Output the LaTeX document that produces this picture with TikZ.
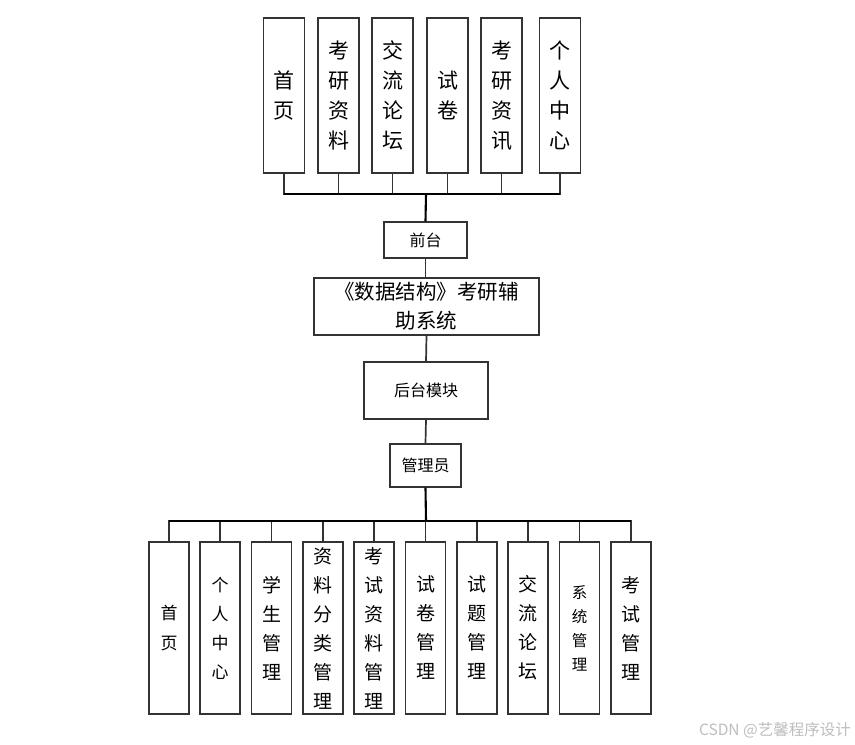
\documentclass[tikz,border=0pt]{standalone}
\usepackage{fontspec}
\newfontfamily\cjk{Noto Sans CJK SC}
\definecolor{boxline}{HTML}{333333}
\definecolor{wm}{HTML}{BDBDBD}
\tikzset{
  box/.style={draw=boxline, line width=1.4pt, fill=white, inner sep=0pt, align=center},
  vtop/.style={box, minimum width=41pt, minimum height=155pt, font=\cjk\fontsize{21}{30}\selectfont},
  vbot/.style={box, minimum width=40pt, minimum height=172pt, font=\cjk\fontsize{19}{29}\selectfont},
  midbox/.style={box, font=\cjk\fontsize{16}{20}\selectfont},
  stem/.style={draw=boxline, line width=1.7pt},
  trunk/.style={draw=black, line width=2.1pt},
}
\begin{document}
\begin{tikzpicture}[x=1pt,y=-1pt]
\useasboundingbox (0,0) rectangle (855,745);
% top boxes
\node[vtop] (t1) at (284,95.5) {首\\页};
\node[vtop] (t2) at (338.5,95.5) {考\\研\\资\\料};
\node[vtop] (t3) at (392.5,95.5) {交\\流\\论\\坛};
\node[vtop] (t4) at (447.5,95.5) {试\\卷};
\node[vtop] (t5) at (501.5,95.5) {考\\研\\资\\讯};
\node[vtop] (t6) at (560,95.5) {个\\人\\中\\心};
\coordinate (tb) at (426,194);
\coordinate (tbl) at (284,194);
\coordinate (tbr) at (560,194);
% middle
\node[midbox, minimum width=83pt, minimum height=36pt] (qt) at (425.5,240) {前台};
\node[box, minimum width=225pt, minimum height=57pt, text width=215pt, font=\cjk\fontsize{20.5}{29}\selectfont] (sys) at (426.5,306.5) {《数据结构》考研辅\\助系统};
\node[midbox, minimum width=124pt, minimum height=57pt] (ht) at (426,390.5) {后台模块};
\node[midbox, minimum width=71pt, minimum height=43pt] (gly) at (425.5,465.5) {管理员};
\coordinate (bb) at (426,521);
\coordinate (bbl) at (169,521);
\coordinate (bbr) at (631,521);
% bottom boxes
\node[vbot, font=\cjk\fontsize{17}{30}\selectfont] (b1) at (169,628) {首\\页};
\node[vbot, font=\cjk\fontsize{17}{29}\selectfont] (b2) at (220,628) {个\\人\\中\\心};
\node[vbot] (b3) at (271.5,628) {学\\生\\管\\理};
\node[vbot] (b4) at (323,628) {资\\料\\分\\类\\管\\理};
\node[vbot] (b5) at (374,628) {考\\试\\资\\料\\管\\理};
\node[vbot] (b6) at (425.5,628) {试\\卷\\管\\理};
\node[vbot] (b7) at (477,628) {试\\题\\管\\理};
\node[vbot] (b8) at (528,628) {交\\流\\论\\坛};
\node[vbot, font=\cjk\fontsize{15.5}{24}\selectfont] (b9) at (579.5,628) {系\\统\\管\\理};
\node[vbot] (b10) at (631,628) {考\\试\\管\\理};
% top connectors
\foreach \n in {t1,t2,t3,t4,t5,t6} \draw[stem] (\n.south) |- (tb);
\draw[trunk] (tbl) -- (tbr);
\draw[trunk] (tb) -- (qt.north);
\draw[stem] (qt.south) -- (sys.north -| qt.south);
\draw[stem] (sys.south) -- (ht.north);
\draw[stem] (ht.south) -- (gly.north);
\draw[trunk] (gly.south) -- (bb);
\foreach \n in {b1,b2,b3,b4,b5,b6,b7,b8,b9,b10} \draw[stem] (\n.north) |- (bb);
\draw[trunk] (bbl) -- (bbr);
% watermark
\node[font=\cjk\fontsize{15.5}{17}\selectfont, text=wm, anchor=east, inner sep=0pt] (wmk) at (851,730) {CSDN @艺馨程序设计};
\end{tikzpicture}
\end{document}
